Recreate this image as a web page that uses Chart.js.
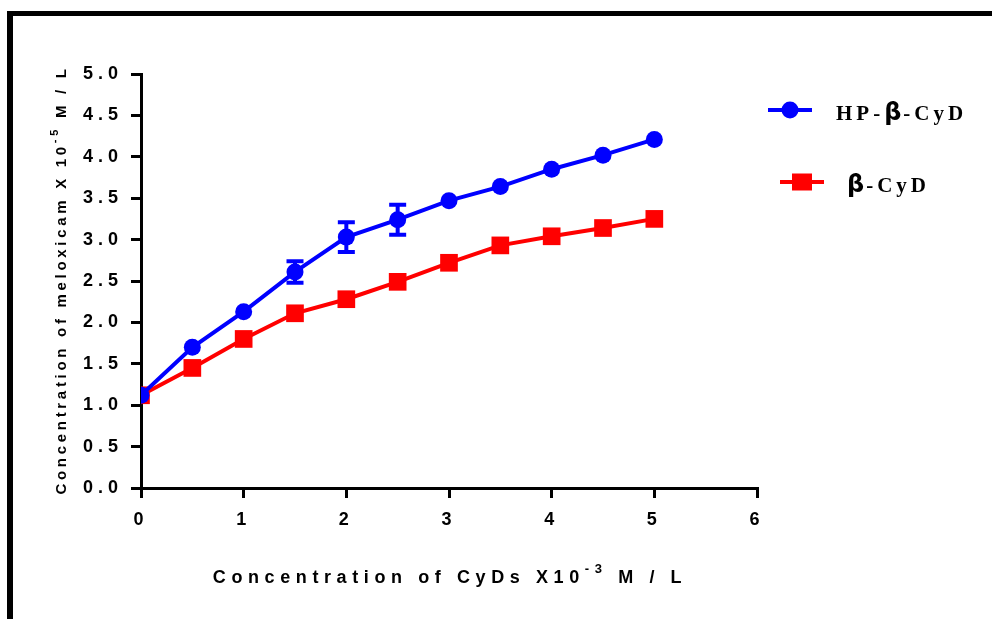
<!DOCTYPE html>
<html>
<head>
<meta charset="utf-8">
<script src="https://cdn.jsdelivr.net/npm/chart.js@4.4.1/dist/chart.umd.min.js"></script>
<style>
  html, body { margin: 0; padding: 0; background: #fff; }
  #wrap { position: relative; width: 992px; height: 619px; }
</style>
</head>
<body>
<div id="wrap"><canvas id="chart" width="992" height="619"></canvas></div>
<script>
// Data
const xVals = [0, 0.5, 1, 1.5, 2, 2.5, 3, 3.5, 4, 4.5, 5];
const hpBetaVals = [1.12, 1.70, 2.13, 2.61, 3.03, 3.24, 3.47, 3.64, 3.85, 4.02, 4.21];
const hpBetaErr = [0, 0, 0, 0.13, 0.18, 0.18, 0, 0, 0, 0, 0];
const betaVals = [1.12, 1.45, 1.80, 2.11, 2.28, 2.49, 2.72, 2.93, 3.04, 3.14, 3.25];
const seriesNames = ["HP-\u03B2-CyD", "\u03B2-CyD"];
const xTicks = [0, 1, 2, 3, 4, 5, 6];
const yTicks = [0, 0.5, 1, 1.5, 2, 2.5, 3, 3.5, 4, 4.5, 5];

const BLUE = "#0000ff";
const RED = "#ff0000";

const toPoints = (vals) => xVals.map((x, i) => ({ x: x, y: vals[i] }));

// draws text made of parts, some superscript, centred on (cx, cy)
function drawRich(ctx, parts, cx, cy, size, spacing) {
  const supSize = Math.round(size * 0.7);
  let total = 0;
  const widths = parts.map((p) => {
    ctx.font = "bold " + (p.sup ? supSize : size) + "px 'Liberation Sans', Arial";
    ctx.letterSpacing = spacing + "px";
    const w = ctx.measureText(p.t).width;
    total += w;
    return w;
  });
  let x = cx - total / 2;
  ctx.textBaseline = "middle";
  ctx.textAlign = "left";
  parts.forEach((p, i) => {
    ctx.font = "bold " + (p.sup ? supSize : size) + "px 'Liberation Sans', Arial";
    ctx.letterSpacing = spacing + "px";
    ctx.fillText(p.t, x, p.sup ? cy - size * 0.45 : cy);
    x += widths[i];
  });
}

// legend label: serif text with a larger beta glyph
function drawLegendText(ctx, text, x, y) {
  ctx.textAlign = "left";
  ctx.textBaseline = "alphabetic";
  for (const ch of text) {
    if (ch === "\u03B2") {
      ctx.font = "bold 24px 'DejaVu Sans', sans-serif";
      ctx.letterSpacing = "2px";
    } else {
      ctx.font = "bold 21px 'Liberation Serif', 'Times New Roman', serif";
      ctx.letterSpacing = "4px";
    }
    ctx.fillText(ch, x, y);
    x += ctx.measureText(ch).width;
  }
}

const framePlugin = {
  id: "frame",
  beforeDraw(chart) {
    const ctx = chart.ctx;
    ctx.save();
    ctx.fillStyle = "#000";
    ctx.fillRect(7, 11, chart.width - 7, 5);
    ctx.fillRect(7, 11, 6, chart.height - 11);
    ctx.restore();
    // spaced digits for the tick labels
    ctx.letterSpacing = "5px";
  },
};

const errorBarPlugin = {
  id: "errorBars",
  afterDatasetsDraw(chart) {
    const ctx = chart.ctx;
    const xs = chart.scales.x;
    const ys = chart.scales.y;
    ctx.save();
    ctx.strokeStyle = BLUE;
    ctx.lineWidth = 4;
    hpBetaErr.forEach((e, i) => {
      if (!e) return;
      const px = xs.getPixelForValue(xVals[i]);
      const top = ys.getPixelForValue(hpBetaVals[i] + e);
      const bot = ys.getPixelForValue(hpBetaVals[i] - e);
      ctx.beginPath();
      ctx.moveTo(px, top);
      ctx.lineTo(px, bot);
      ctx.moveTo(px - 8.5, top);
      ctx.lineTo(px + 8.5, top);
      ctx.moveTo(px - 8.5, bot);
      ctx.lineTo(px + 8.5, bot);
      ctx.stroke();
    });
    ctx.restore();
  },
};

const labelsPlugin = {
  id: "labels",
  afterDraw(chart) {
    const ctx = chart.ctx;
    ctx.save();
    ctx.fillStyle = "#000";
    // y axis title
    ctx.translate(62, 280);
    ctx.rotate(-Math.PI / 2);
    drawRich(ctx, [
      { t: "Concentration of meloxicam X 10" },
      { t: "-5", sup: true },
      { t: " M / L" },
    ], 0, 0, 15, 3.7);
    ctx.setTransform(1, 0, 0, 1, 0, 0);
    // x axis title
    drawRich(ctx, [
      { t: "Concentration of CyDs X10" },
      { t: "-3", sup: true },
      { t: " M / L" },
    ], 450, 578, 18, 5.6);

    // legend
    const items = [
      { name: seriesNames[0], color: BLUE, shape: "circle", x0: 768, y: 110, tx: 836, ty: 120 },
      { name: seriesNames[1], color: RED, shape: "square", x0: 780, y: 182, tx: 847, ty: 192 },
    ];
    items.forEach((it) => {
      ctx.strokeStyle = it.color;
      ctx.fillStyle = it.color;
      ctx.lineWidth = 4;
      ctx.beginPath();
      ctx.moveTo(it.x0, it.y);
      ctx.lineTo(it.x0 + 44, it.y);
      ctx.stroke();
      const cx = it.x0 + 22;
      if (it.shape === "circle") {
        ctx.beginPath();
        ctx.arc(cx, it.y, 8.5, 0, Math.PI * 2);
        ctx.fill();
      } else {
        ctx.fillRect(cx - 10, it.y - 8.5, 20, 17);
      }
      ctx.fillStyle = "#000";
      drawLegendText(ctx, it.name, it.tx, it.ty);
    });
    ctx.restore();
  },
};

const tickFont = { family: "'Liberation Sans', Arial", size: 18, weight: "bold" };

new Chart(document.getElementById("chart"), {
  type: "line",
  data: {
    datasets: [
      {
        label: seriesNames[0],
        data: toPoints(hpBetaVals),
        borderColor: BLUE,
        backgroundColor: BLUE,
        borderWidth: 4,
        pointStyle: "circle",
        pointRadius: 8.5,
        pointBorderWidth: 0,
        pointHoverRadius: 8.5,
      },
      {
        label: seriesNames[1],
        data: toPoints(betaVals),
        borderColor: RED,
        backgroundColor: RED,
        borderWidth: 4,
        pointStyle: "rect",
        pointRadius: 12.5,
        pointBorderWidth: 0,
        pointHoverRadius: 12.5,
      },
    ],
  },
  options: {
    responsive: false,
    animation: false,
    events: [],
    layout: { padding: { left: 0, right: 235, top: 74, bottom: 0 } },
    plugins: { legend: { display: false }, tooltip: { enabled: false } },
    scales: {
      x: {
        type: "linear",
        min: 0,
        max: 6,
        afterFit: (s) => { s.height = 131; },
        afterBuildTicks: (s) => { s.ticks = xTicks.map((v) => ({ value: v })); },
        border: { color: "#000", width: 3 },
        grid: { drawOnChartArea: false, drawTicks: true, tickLength: 10, color: "#000", lineWidth: 3 },
        ticks: { color: "#000", font: tickFont, padding: 11, callback: (v) => String(v) },
      },
      y: {
        min: 0,
        max: 5,
        afterFit: (s) => { s.width = 141; },
        afterBuildTicks: (s) => { s.ticks = yTicks.map((v) => ({ value: v })); },
        border: { color: "#000", width: 3 },
        grid: { drawOnChartArea: false, drawTicks: true, tickLength: 10, color: "#000", lineWidth: 3 },
        ticks: { color: "#000", font: tickFont, padding: 8, callback: (v) => v.toFixed(1) },
      },
    },
  },
  plugins: [framePlugin, errorBarPlugin, labelsPlugin],
});
</script>
</body>
</html>
